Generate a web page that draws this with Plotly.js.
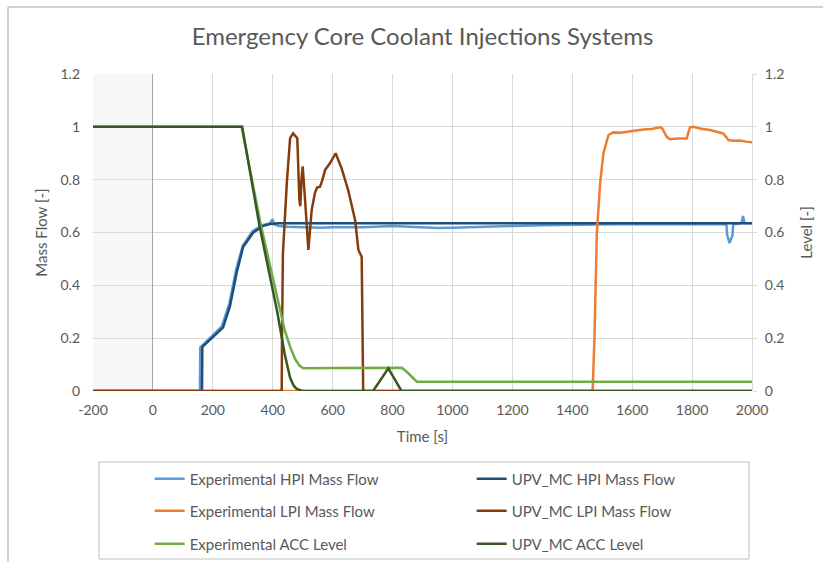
<!DOCTYPE html>
<html>
<head>
<meta charset="utf-8">
<script src="https://cdn.plot.ly/plotly-3.0.1.min.js"></script>
<style>html,body{margin:0;padding:0;background:#fff;}#chart{width:823px;height:562px;}</style>
</head>
<body>
<div id="chart"></div>
<script>
// ---- Data ----
const expHpiT = [-200,157,158,190,230,255,278,300,333,365,390,400,405,420,450,500,560,600,700,800,900,950,1000,1100,1200,1300,1400,1500,1600,1700,1800,1900,1915,1917,1925,1935,1937,1950,1965,1970,1975,2000];
const expHpiV = [0,0,0.165,0.2,0.245,0.33,0.46,0.55,0.605,0.628,0.634,0.65,0.63,0.625,0.622,0.62,0.618,0.62,0.62,0.625,0.618,0.617,0.618,0.622,0.625,0.627,0.629,0.631,0.632,0.631,0.632,0.632,0.628,0.59,0.56,0.59,0.63,0.632,0.635,0.662,0.636,0.635];

const upvHpiT = [-200,164,165,196,234,257,280,301,335,368,391,420,2000];
const upvHpiV = [0,0,0.167,0.20,0.24,0.32,0.45,0.545,0.60,0.625,0.632,0.635,0.635];

const expLpiT = [-200,1468,1474,1478,1482,1493,1504,1521,1537,1560,1582,1610,1637,1665,1693,1700,1715,1726,1750,1782,1788,1793,1804,1830,1860,1904,1915,1921,1940,1960,1980,1994,2000];
const expLpiV = [0,0,0.2,0.4,0.597,0.787,0.90,0.969,0.979,0.978,0.982,0.985,0.99,0.992,0.998,0.995,0.963,0.953,0.956,0.956,0.985,0.998,1.0,0.993,0.988,0.975,0.96,0.95,0.947,0.948,0.944,0.941,0.942];

const upvLpiT = [-200,430,431,434,447,458,468,482,489,492,496,500,508,519,530,541,548,558,566,575,591,610,630,652,675,686,697,700,702,2000];
const upvLpiV = [0,0,0.2,0.52,0.787,0.957,0.975,0.957,0.723,0.70,0.80,0.85,0.723,0.534,0.685,0.75,0.77,0.773,0.80,0.837,0.862,0.90,0.843,0.76,0.647,0.534,0.508,0.3,0,0];

const expAccT = [-200,296,360,424,440,458,475,490,502,600,700,800,831,850,870,881,2000];
const expAccV = [1,1,0.63,0.319,0.23,0.168,0.12,0.095,0.086,0.087,0.088,0.088,0.088,0.07,0.045,0.035,0.035];

const upvAccT = [-200,298,355,415,440,458,470,480,500,735,786,830,2000];
const upvAccV = [1,1,0.63,0.3,0.14,0.05,0.02,0.008,0,0,0.086,0,0];

const xTickVals = [-200,0,200,400,600,800,1000,1200,1400,1600,1800,2000];
const xTickText = ["-200","0","200","400","600","800","1000","1200","1400","1600","1800","2000"];

const seriesNames = ["Experimental HPI Mass Flow","UPV_MC HPI Mass Flow","Experimental LPI Mass Flow","UPV_MC LPI Mass Flow","Experimental ACC Level","UPV_MC ACC Level"];
const seriesColors = ["#5B9BD5","#1F4E79","#ED7D31","#843C0C","#70AD47","#385723"];

// ---- Plot ----
const FONT = "Lato, 'Open Sans', sans-serif";
const TXT = "#595959";
function tr(i, x, y, axis, leg) {
  return {x: x, y: y, type: "scatter", mode: "lines", name: seriesNames[i],
    yaxis: axis, legend: leg,
    line: {color: seriesColors[i], width: 2.5}};
}
const traces = [
  tr(4, expAccT, expAccV, "y2", "legend3"),
  tr(5, upvAccT, upvAccV, "y2", "legend3"),
  tr(0, expHpiT, expHpiV, "y", "legend"),
  tr(1, upvHpiT, upvHpiV, "y", "legend"),
  tr(2, expLpiT, expLpiV, "y", "legend2"),
  tr(3, upvLpiT, upvLpiV, "y", "legend2")
];

const legBase = (yy) => ({
  orientation: "h", x: 0.086, xanchor: "left", y: yy, yanchor: "middle",
  entrywidth: 277, entrywidthmode: "pixels", traceorder: "normal",
  font: {family: FONT, size: 15, color: TXT}, bgcolor: "rgba(0,0,0,0)",
  itemwidth: 30
});

const layout = {
  width: 823, height: 562,
  margin: {l: 93, r: 71, t: 74, b: 171, autoexpand: false},
  paper_bgcolor: "#fff", plot_bgcolor: "#fff",
  font: {family: FONT, size: 14, color: TXT},
  title: {text: "Emergency Core Coolant Injections Systems", x: 0.5, xref: "paper", xanchor: "center",
    y: 0.934, yref: "container", yanchor: "middle", font: {family: FONT, size: 24, color: TXT}},
  xaxis: {range: [-200, 2000], tickmode: "array", tickvals: xTickVals, ticktext: xTickText,
    showgrid: true, gridcolor: "#d9d9d9", gridwidth: 1,
    zeroline: true, zerolinecolor: "#a6a6a6", zerolinewidth: 1, showline: false, ticks: "",
    ticklabelstandoff: 9, automargin: false,
    tickfont: {family: FONT, size: 14, color: TXT},
    title: {text: "Time [s]", font: {family: FONT, size: 15, color: TXT}, standoff: 14}},
  yaxis: {range: [0, 1.2], dtick: 0.2, showgrid: true, gridcolor: "#d9d9d9", gridwidth: 1,
    zeroline: false, showline: false, ticks: "", ticklabelstandoff: 12, automargin: false,
    tickfont: {family: FONT, size: 14, color: TXT},
    title: {text: "Mass Flow [-]", font: {family: FONT, size: 15, color: TXT}, standoff: 9}},
  yaxis2: {range: [0, 1.2], dtick: 0.2, overlaying: "y", side: "right", showgrid: false,
    zeroline: false, showline: true, linecolor: "#d9d9d9", ticks: "outside", ticklen: 4, tickcolor: "#d9d9d9",
    ticklabelstandoff: 5, automargin: false,
    tickfont: {family: FONT, size: 14, color: TXT},
    title: {text: "Level [-]", font: {family: FONT, size: 15, color: TXT}, standoff: 18}},
  showlegend: true,
  legend: legBase(-0.2776),
  legend2: legBase(-0.3785),
  legend3: legBase(-0.4826),
  shapes: [
    {type: "rect", xref: "x", yref: "paper", x0: -200, x1: 0, y0: 0, y1: 1,
      fillcolor: "#f7f7f7", line: {width: 0}, layer: "below"},
    // legend frame
    {type: "rect", xref: "paper", yref: "paper", x0: (99-93)/659, x1: (749-93)/659,
      y0: (391-559)/317, y1: (391-462)/317, line: {color: "#bfbfbf", width: 1}, fillcolor: "rgba(0,0,0,0)"},
    // chart outer border (top and left)
    {type: "line", xref: "paper", yref: "paper", x0: (8-93)/659, x1: (823-93)/659,
      y0: (391-7)/317, y1: (391-7)/317, line: {color: "#a6a6a6", width: 1}},
    {type: "line", xref: "paper", yref: "paper", x0: (8-93)/659, x1: (8-93)/659,
      y0: (391-7)/317, y1: (391-562)/317, line: {color: "#a6a6a6", width: 1}}
  ]
};

Plotly.newPlot("chart", traces, layout, {displayModeBar: false, staticPlot: true});
</script>
</body>
</html>
